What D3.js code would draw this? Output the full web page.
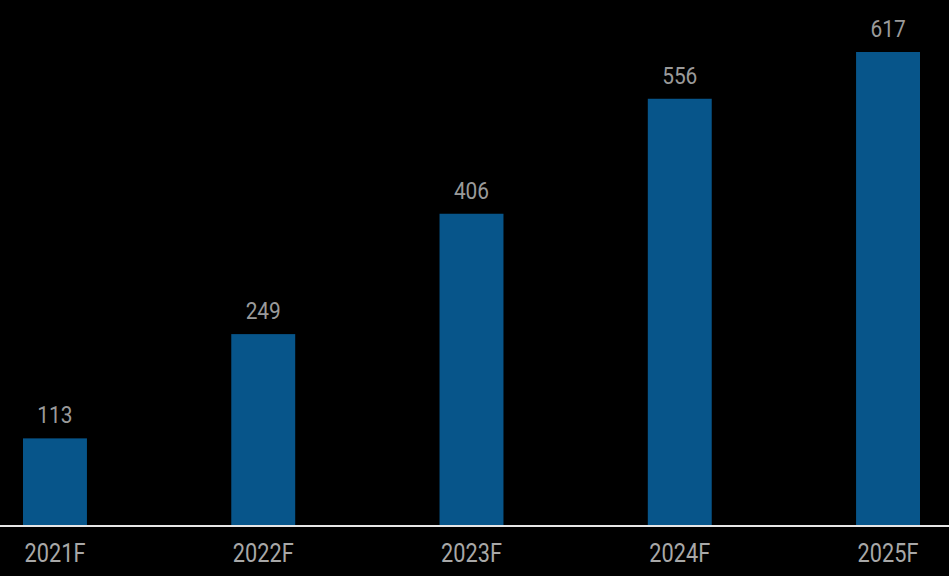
<!DOCTYPE html>
<html><head><meta charset="utf-8">
<script src="https://cdn.jsdelivr.net/npm/d3@7"></script>
<style>html,body{margin:0;padding:0;background:#000;}svg{display:block;}</style>
</head><body>
<svg id="chart" width="949" height="576"></svg>
<script>
const categories = ["2021F", "2022F", "2023F", "2024F", "2025F"];
const values = [113, 249, 406, 556, 617];

const svg = d3.select("#chart");
const W = 949, H = 576;
const FONT = "Roboto, 'Liberation Sans', Arial, sans-serif";
const SQUEEZE = 0.87;
svg.append("rect").attr("width", W).attr("height", H).attr("fill", "#000");

const x = d3.scaleBand().domain(categories).range([23, 920]).paddingInner(0.693).paddingOuter(0);
const y = d3.scaleLinear().domain([0, 617]).range([525, 52]);

const data = categories.map((c, i) => ({c, v: values[i]}));

svg.selectAll("rect.bar").data(data).enter().append("rect")
  .attr("class", "bar")
  .attr("x", d => x(d.c))
  .attr("width", x.bandwidth())
  .attr("y", d => y(d.v))
  .attr("height", d => y(0) - y(d.v))
  .attr("fill", "#07558a");

function squeeze(sel) {
  sel.each(function() {
    const len = this.getComputedTextLength();
    this.setAttribute("textLength", (len * SQUEEZE).toFixed(1));
    this.setAttribute("lengthAdjust", "spacingAndGlyphs");
  });
}

svg.selectAll("text.val").data(data).enter().append("text")
  .attr("class", "val")
  .attr("x", d => x(d.c) + x.bandwidth() / 2)
  .attr("y", d => y(d.v) - 15)
  .attr("text-anchor", "middle")
  .attr("font-family", FONT)
  .attr("font-size", 24)
  .attr("fill", "#9a9a9a")
  .text(d => d.v)
  .call(squeeze);

const axis = d3.axisBottom(x).tickSize(0).tickPadding(0);
const g = svg.append("g").attr("transform", "translate(0,526)").call(axis);
g.select(".domain").remove();
g.append("line").attr("x1", 0).attr("x2", W).attr("y1", 0).attr("y2", 0)
  .attr("stroke", "#e6e6e6").attr("stroke-width", 2);
g.selectAll(".tick text")
  .attr("font-family", FONT)
  .attr("font-size", 25)
  .attr("fill", "#a8a8a8")
  .attr("dy", null)
  .attr("y", 36)
  .call(squeeze);
</script>
</body></html>
